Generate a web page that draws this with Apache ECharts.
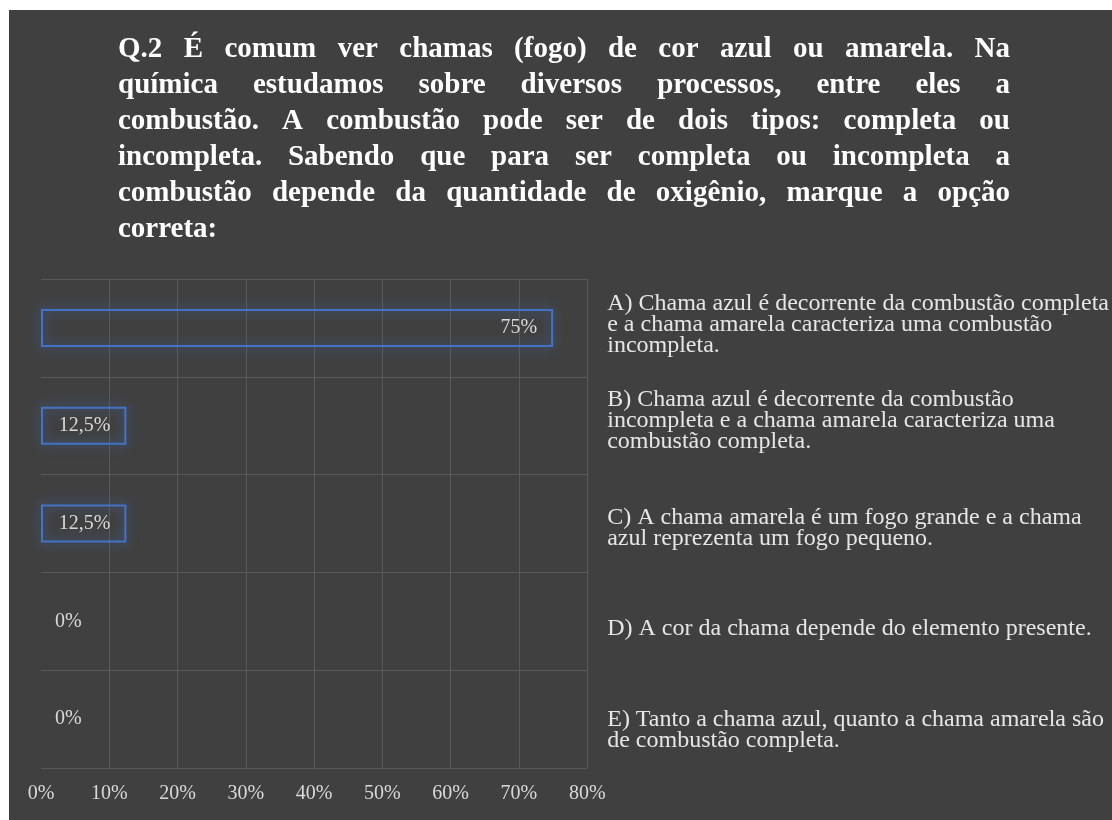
<!DOCTYPE html>
<html>
<head>
<meta charset="utf-8">
<script src="https://cdn.jsdelivr.net/npm/echarts@6/dist/echarts.min.js"></script>
<style>
html,body{margin:0;padding:0;background:#ffffff;}
#chart{width:1112px;height:820px;}
</style>
</head>
<body>
<div id="chart"></div>
<script>
const titleLines = [
  "Q.2 É comum ver chamas (fogo) de cor azul ou amarela. Na",
  "química estudamos sobre diversos processos, entre eles a",
  "combustão. A combustão pode ser de dois tipos: completa ou",
  "incompleta. Sabendo que para ser completa ou incompleta a",
  "combustão depende da quantidade de oxigênio, marque a opção",
  "correta:"
];
const categories = [
  "A) Chama azul é decorrente da combustão completa\ne a chama amarela caracteriza uma combustão\nincompleta.",
  "B) Chama azul é decorrente da combustão\nincompleta e a chama amarela caracteriza uma\ncombustão completa.",
  "C) A chama amarela é um fogo grande e a chama\nazul reprezenta um fogo pequeno.",
  "D) A cor da chama depende do elemento presente.",
  "E) Tanto a chama azul, quanto a chama amarela são\nde combustão completa."
];
const values = [0.75, 0.125, 0.125, 0, 0];
const xMin = 0, xMax = 0.8, xStep = 0.1;

// style-only: vertical nudge (px) of each option label, as placed in the original
const labelNudge = [-3, -5, 5, 7, 11];

function pct(v) {
  return (Math.round(v * 1000) / 10).toString().replace('.', ',') + '%';
}

const serif = '"Liberation Serif", "DejaVu Serif", serif';
const titleFont = { fontFamily: serif, fontWeight: 'bold', fontSize: 29, lineHeight: 36, color: '#ffffff' };
const titleWidth = 892;

// justify title lines (like the original) using rich-text gap tokens
const ctx = document.createElement('canvas').getContext('2d');
ctx.font = 'bold 29px "Liberation Serif"';
const rich = { t: Object.assign({}, titleFont) };
const titleText = titleLines.map((line, i) => {
  const words = line.split(' ');
  if (i === titleLines.length - 1 || words.length < 2) return '{t|' + line + '}';
  const wsum = words.reduce((s, w) => s + ctx.measureText(w).width, 0);
  const gap = (titleWidth - wsum) / (words.length - 1);
  rich['g' + i] = Object.assign({}, titleFont, { width: gap });
  return words.map(w => '{t|' + w + '}').join('{g' + i + '| }');
}).join('\n');

// spacer rich styles used to nudge option labels vertically
const labelRich = {};
labelNudge.forEach((d, i) => {
  labelRich['h' + i] = { fontSize: 1, lineHeight: Math.max(1, 2 * Math.abs(d)) };
});

const chart = echarts.init(document.getElementById('chart'));
chart.setOption({
  backgroundColor: '#ffffff',
  animation: false,
  graphic: [{
    type: 'rect', z: -10, silent: true,
    shape: { x: 9, y: 10, width: 1103, height: 810 },
    style: { fill: '#404040' }
  }],
  title: {
    text: titleText,
    left: 118, top: 32, padding: 0,
    textStyle: Object.assign({}, titleFont, { rich: rich })
  },
  grid: { left: 41, right: 524, top: 279, bottom: 52, containLabel: false },
  xAxis: {
    type: 'value', min: xMin, max: xMax, interval: xStep,
    axisLine: { show: false }, axisTick: { show: false },
    splitLine: { show: true, showMinLine: false, lineStyle: { color: '#595959', width: 1 } },
    axisLabel: {
      formatter: v => pct(v), margin: 16,
      fontFamily: serif, fontSize: 20, color: '#d9d9d9'
    }
  },
  yAxis: {
    type: 'category', inverse: true, position: 'right',
    data: categories,
    axisLine: { show: false }, axisTick: { show: false },
    splitLine: { show: true, lineStyle: { color: '#595959', width: 1 } },
    axisLabel: {
      align: 'left', margin: 20, interval: 0,
      fontFamily: serif, fontSize: 24, lineHeight: 21, color: '#e6e6e6',
      rich: labelRich,
      formatter: (val, idx) => {
        const d = labelNudge[idx] || 0;
        const hold = '{h' + idx + '| }';
        if (d > 0) return hold + '\n' + val;
        if (d < 0) return val + '\n' + hold;
        return val;
      }
    }
  },
  series: [{
    type: 'bar',
    data: values.map(v => v === 0
      ? { value: v, label: { position: 'right', distance: 14 }, itemStyle: { borderWidth: 0, shadowBlur: 0 } }
      : { value: v }),
    barWidth: 38,
    itemStyle: {
      color: 'rgba(0,0,0,0)', borderColor: '#4472c4', borderWidth: 2,
      shadowBlur: 12, shadowColor: 'rgba(68,114,196,0.95)'
    },
    label: {
      show: true, position: 'insideRight', distance: 16,
      formatter: p => pct(p.value),
      fontFamily: serif, fontSize: 20, color: '#d9d9d9'
    }
  }]
});
</script>
</body>
</html>
